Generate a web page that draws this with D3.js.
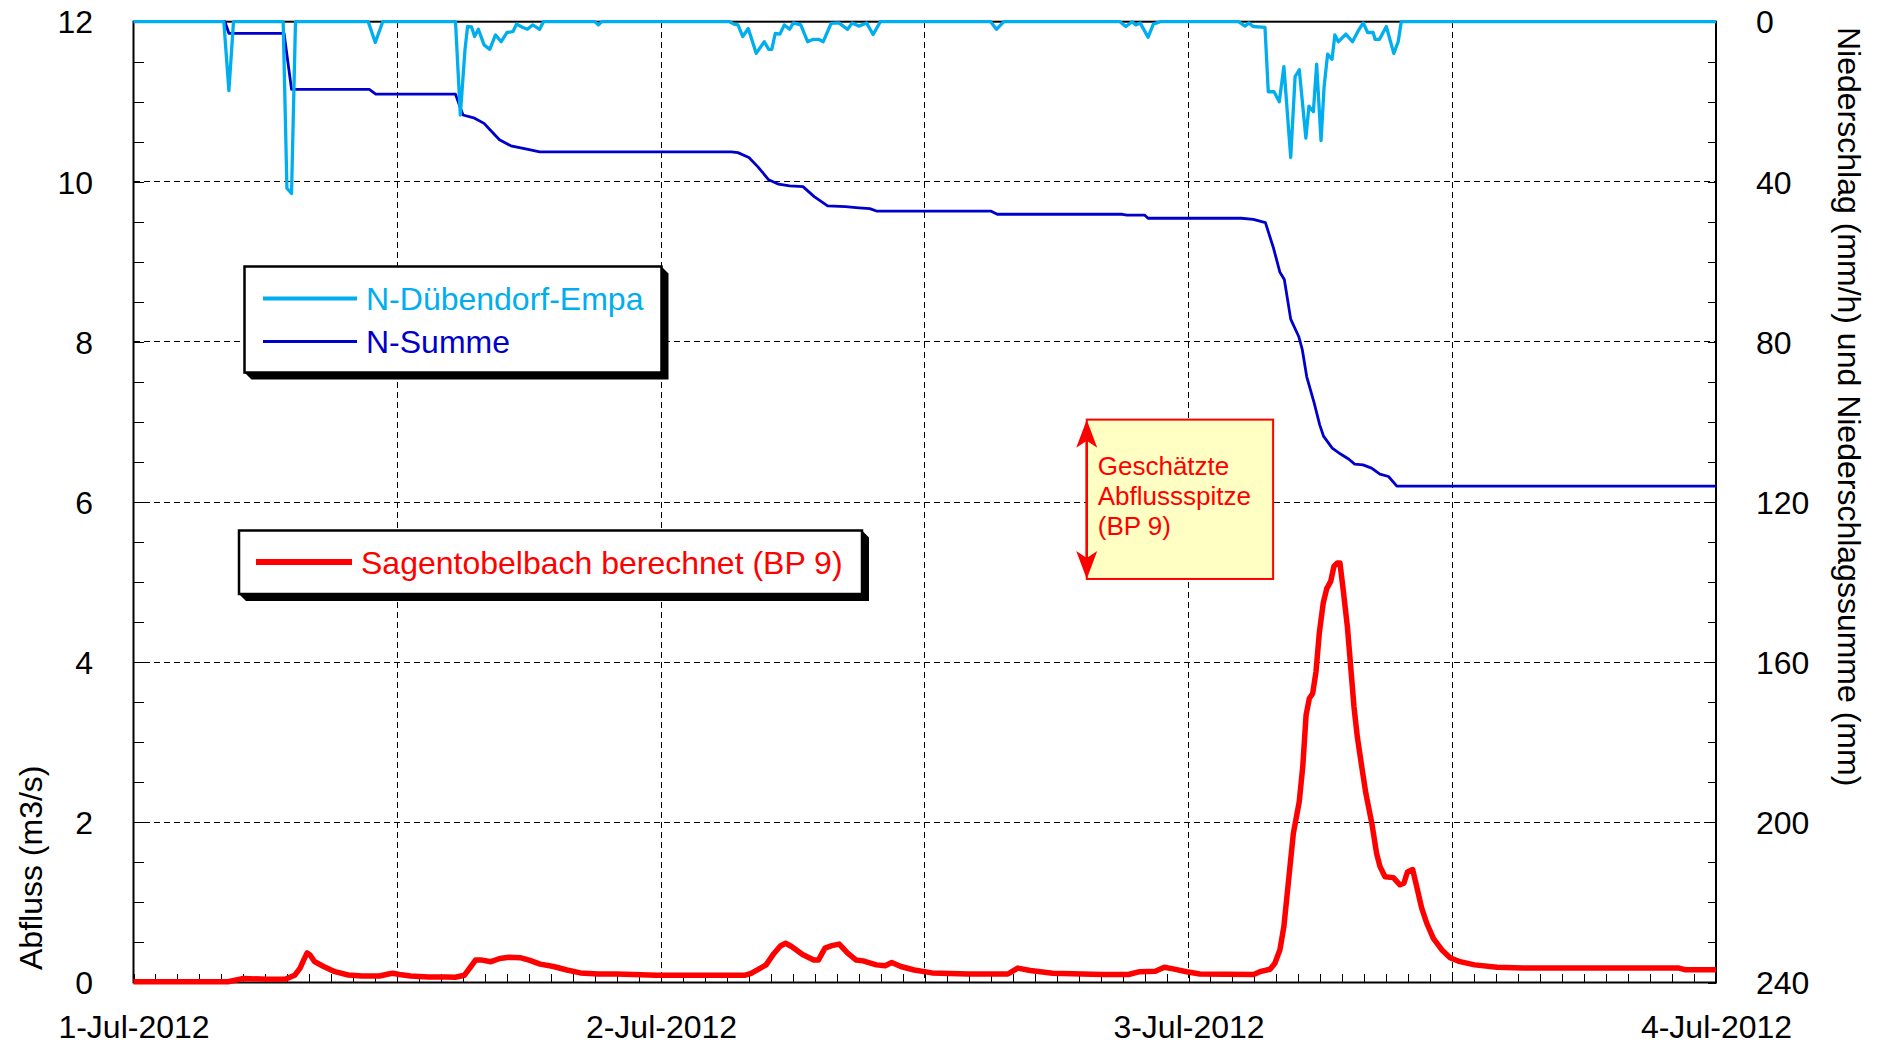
<!DOCTYPE html>
<html>
<head>
<meta charset="utf-8">
<script src="https://cdn.jsdelivr.net/npm/d3@7"></script>
<style>
  body { margin: 0; background: #fff; }
  text { font-family: "Liberation Sans", Arial, Helvetica, sans-serif; }
</style>
</head>
<body>
<div id="chart"></div>
<script>
// Stunden ab 1-Jul-2012 00:00
// Sagentobelbach berechnet (BP 9), m3/s
const abfluss = [
  [0, 0.01], [4.3, 0.01], [5.0, 0.05], [6.1, 0.04], [6.9, 0.04], [7.33, 0.09], [7.58, 0.18],
  [7.74, 0.28], [7.9, 0.37], [8.04, 0.34], [8.24, 0.26], [8.65, 0.2], [9.16, 0.135], [9.77, 0.094],
  [10.38, 0.081], [11.19, 0.081], [11.6, 0.106], [11.8, 0.115], [12.1, 0.1], [12.61, 0.08],
  [13.42, 0.07], [14.24, 0.07], [14.64, 0.065], [15.05, 0.09], [15.35, 0.2], [15.56, 0.28],
  [15.86, 0.28], [16.26, 0.26], [16.67, 0.3], [17.08, 0.315], [17.59, 0.31], [18.0, 0.28],
  [18.5, 0.23], [19.11, 0.2], [19.72, 0.156], [20.33, 0.12], [21.14, 0.106], [21.95, 0.106],
  [22.76, 0.1], [23.78, 0.09], [27.8, 0.09], [28.1, 0.115], [28.78, 0.22], [29.13, 0.36],
  [29.43, 0.456], [29.67, 0.49], [29.94, 0.45], [30.44, 0.35], [30.95, 0.28], [31.16, 0.28],
  [31.46, 0.43], [31.77, 0.46], [32.11, 0.48], [32.48, 0.37], [32.88, 0.28], [33.19, 0.27],
  [33.8, 0.22], [34.2, 0.21], [34.5, 0.25], [34.91, 0.2], [35.52, 0.156], [36.33, 0.12],
  [37.96, 0.106], [39.78, 0.106], [40.23, 0.18], [40.8, 0.15], [41.82, 0.115], [44.05, 0.1],
  [45.27, 0.1], [45.78, 0.135], [46.49, 0.14], [46.9, 0.19], [47.3, 0.17], [47.91, 0.135],
  [48.52, 0.106], [50.96, 0.1], [51.25, 0.135], [51.71, 0.165], [51.93, 0.24], [52.16, 0.41],
  [52.34, 0.7], [52.54, 1.24], [52.77, 1.86], [53.04, 2.26], [53.2, 2.7], [53.35, 3.34],
  [53.5, 3.55], [53.65, 3.61], [53.8, 3.88], [53.95, 4.36], [54.13, 4.74], [54.29, 4.92],
  [54.47, 5.01], [54.62, 5.2], [54.77, 5.24], [54.89, 5.24], [55.04, 4.9], [55.23, 4.44],
  [55.38, 3.94], [55.53, 3.44], [55.68, 3.07], [55.88, 2.7], [56.07, 2.36], [56.34, 1.99],
  [56.56, 1.61], [56.71, 1.45], [56.94, 1.32], [57.32, 1.31], [57.62, 1.22], [57.8, 1.24],
  [57.96, 1.38], [58.2, 1.41], [58.38, 1.2], [58.61, 0.93], [58.84, 0.74], [59.14, 0.55],
  [59.52, 0.41], [59.9, 0.31], [60.35, 0.26], [61.02, 0.22], [62.04, 0.19], [63.22, 0.18],
  [70.32, 0.18], [70.58, 0.16], [72, 0.16]
];

// N-Dübendorf-Empa, mm/h
const niederschlag = [
  [0, 0], [4.11, 0], [4.34, 17.2], [4.55, 0], [6.81, 0], [6.98, 41.6], [7.19, 42.9], [7.37, 0],
  [10.68, 0], [11.0, 5.2], [11.34, 0], [14.65, 0], [14.87, 23.3], [15.08, 7.1], [15.2, 1.2],
  [15.38, 1.3], [15.52, 3.7], [15.69, 1.9], [15.95, 5.8], [16.21, 6.9], [16.47, 3.3], [16.73, 5.0],
  [16.99, 2.7], [17.26, 2.5], [17.43, 0.6], [17.69, 1.4], [17.92, 1.9], [18.16, 0.8], [18.48, 1.9],
  [18.65, 0], [21.0, 0], [21.15, 0.8], [21.3, 0], [27.12, 0], [27.32, 0.6], [27.5, 0.8],
  [27.72, 3.7], [27.97, 1.7], [28.33, 7.9], [28.7, 5.0], [28.9, 6.9], [29.04, 6.9], [29.2, 2.9],
  [29.41, 3.1], [29.61, 0.8], [29.85, 1.9], [30.02, 0.3], [30.36, 0.8], [30.67, 5.0], [30.93, 4.4],
  [31.17, 4.4], [31.38, 5.0], [31.74, 0.4], [32.09, 0.3], [32.49, 1.9], [32.7, 0.3], [33.0, 1.1],
  [33.35, 0.3], [33.65, 3.2], [33.98, 0], [39.0, 0], [39.26, 1.9], [39.6, 0], [44.88, 0],
  [45.15, 1.2], [45.43, 0], [45.6, 0.8], [45.8, 0.3], [46.16, 3.9], [46.4, 0.6], [46.71, 0],
  [50.27, 0], [50.57, 1.1], [50.75, 0.3], [50.94, 1.2], [51.48, 1.4], [51.63, 17.5], [51.89, 17.5],
  [52.13, 20.0], [52.34, 11.2], [52.65, 33.9], [52.85, 13.7], [53.04, 12.0], [53.34, 29.1],
  [53.48, 21.1], [53.68, 22.5], [53.83, 10.6], [54.03, 29.7], [54.17, 16.2], [54.33, 8.1],
  [54.53, 9.4], [54.66, 3.3], [54.82, 5.0], [55.16, 3.1], [55.46, 5.0], [55.7, 2.5], [55.95, 0.3],
  [56.15, 2.7], [56.4, 2.7], [56.49, 4.4], [56.69, 4.4], [57.0, 1.2], [57.34, 7.9], [57.54, 5.0],
  [57.68, 0], [72, 0]
];

// N-Summe, mm
const summe = [
  [0, 0], [4.16, 0], [4.34, 2.9], [6.85, 2.9], [7.19, 16.9], [10.73, 16.9], [11.02, 18.1],
  [14.65, 18.1], [14.99, 23.3], [15.52, 24.1], [15.95, 25.4], [16.22, 27.0], [16.65, 29.5],
  [17.17, 31.0], [17.95, 31.9], [18.48, 32.5], [27.2, 32.5], [27.5, 32.7], [28.0, 33.9],
  [28.4, 36.2], [28.9, 39.5], [29.35, 40.6], [29.85, 41.0], [30.46, 41.2], [30.97, 43.7],
  [31.58, 46.0], [32.39, 46.2], [33.0, 46.5], [33.5, 46.7], [33.8, 47.3], [39.0, 47.3],
  [39.3, 48.1], [44.99, 48.1], [45.2, 48.3], [46.0, 48.3], [46.16, 49.1], [50.4, 49.1],
  [50.95, 49.4], [51.5, 50.2], [51.87, 56.6], [52.16, 62.6], [52.36, 64.4], [52.65, 74.3],
  [53.02, 78.7], [53.18, 82.0], [53.38, 88.7], [53.72, 95.3], [53.97, 100.7], [54.15, 103.6],
  [54.54, 106.5], [54.92, 108.0], [55.3, 109.3], [55.56, 110.5], [55.94, 110.7], [56.33, 111.5],
  [56.71, 113.0], [57.1, 113.6], [57.48, 116.0], [72, 116.0]
];

const leftTicks = [0, 2, 4, 6, 8, 10, 12];
const rightTicks = [0, 40, 80, 120, 160, 200, 240];
const gridHours = [12, 24, 36, 48, 60];
// geschätzte Abflussspitze: Bereich m3/s und Position (Stunden)
const spitzeRange = [5.04, 7.03];
const spitzeHours = [43.37, 51.85];
const spitzeText = ["Geschätzte", "Abflussspitze", "(BP 9)"];

const width = 1883, height = 1045;
const plotLeft = 133.5, plotRight = 1716, plotTop = 21.7, plotBottom = 982.5;

const t0 = Date.UTC(2012, 6, 1);
const at = h => new Date(t0 + h * 3600e3);

const x = d3.scaleUtc().domain([at(0), at(72)]).range([plotLeft, plotRight]);
const yQ = d3.scaleLinear().domain([0, 12]).range([plotBottom, plotTop]);
const yP = d3.scaleLinear().domain([0, 240]).range([plotTop, plotBottom]);

const svg = d3.select("#chart").append("svg")
  .attr("width", width)
  .attr("height", height);

// Gitter
const grid = svg.append("g")
  .attr("stroke", "#000")
  .attr("stroke-width", 1)
  .attr("stroke-dasharray", "6,4")
  .attr("shape-rendering", "crispEdges");

grid.selectAll("line.h")
  .data(leftTicks.slice(1, -1))
  .join("line")
  .attr("class", "h")
  .attr("x1", plotLeft).attr("x2", plotRight)
  .attr("y1", d => yQ(d)).attr("y2", d => yQ(d));

grid.selectAll("line.v")
  .data(gridHours)
  .join("line")
  .attr("class", "v")
  .attr("x1", d => x(at(d))).attr("x2", d => x(at(d)))
  .attr("y1", plotTop).attr("y2", plotBottom);

// Achsen: kleine Striche nach innen
svg.append("g")
  .attr("transform", `translate(${plotLeft},0)`)
  .attr("shape-rendering", "crispEdges")
  .call(d3.axisLeft(yQ).tickValues(d3.range(0, 12.01, 0.5)).tickSize(-10).tickFormat(""))
  .call(g => g.select(".domain").remove());

svg.append("g")
  .attr("transform", `translate(${plotRight},0)`)
  .attr("shape-rendering", "crispEdges")
  .call(d3.axisRight(yP).tickValues(d3.range(0, 240.1, 10)).tickSize(-8).tickFormat(""))
  .call(g => g.select(".domain").remove());

svg.append("g")
  .attr("transform", `translate(0,${plotBottom})`)
  .attr("shape-rendering", "crispEdges")
  .call(d3.axisBottom(x).ticks(d3.utcHour.every(1)).tickSize(-9).tickFormat(""))
  .call(g => g.select(".domain").remove());

// Beschriftungen
const leftAxis = svg.append("g")
  .attr("transform", `translate(${plotLeft},0)`)
  .call(d3.axisLeft(yQ).tickValues(leftTicks).tickSize(0).tickFormat(d3.format("d")));
leftAxis.select(".domain").remove();
leftAxis.selectAll("text")
  .attr("x", -40.5)
  .attr("dy", "0.35em")
  .attr("fill", "#000")
  .style("font-size", "32px");

const rightAxis = svg.append("g")
  .attr("transform", `translate(${plotRight},0)`)
  .call(d3.axisRight(yP).tickValues(rightTicks).tickSize(0).tickFormat(d3.format("d")));
rightAxis.select(".domain").remove();
rightAxis.selectAll("text")
  .attr("x", 40)
  .attr("dy", "0.35em")
  .attr("fill", "#000")
  .style("font-size", "32px");

const xAxis = svg.append("g")
  .attr("transform", `translate(0,${plotBottom})`)
  .call(d3.axisBottom(x).tickValues([0, 24, 48, 72].map(at)).tickSize(0)
    .tickFormat(d3.utcFormat("%-d-%b-%Y")));
xAxis.select(".domain").remove();
xAxis.selectAll("text")
  .attr("y", 55.5)
  .attr("dy", null)
  .attr("fill", "#000")
  .style("font-size", "32px");

[leftAxis, rightAxis, xAxis].forEach(g => g.attr("font-family", null).attr("font-size", null));

// Achsentitel
svg.append("text")
  .attr("transform", "translate(42,970) rotate(-90)")
  .attr("font-size", "32px")
  .attr("fill", "#000")
  .text("Abfluss (m3/s)");

svg.append("text")
  .attr("transform", "translate(1838,27) rotate(90)")
  .attr("font-size", "32px")
  .attr("fill", "#000")
  .text("Niederschlag (mm/h) und Niederschlagssumme (mm)");

// Rahmen
svg.append("rect")
  .attr("x", plotLeft).attr("y", plotTop)
  .attr("width", plotRight - plotLeft).attr("height", plotBottom - plotTop)
  .attr("fill", "none")
  .attr("stroke", "#000")
  .attr("stroke-width", 2);

// Linien
const lineP = d3.line().x(d => x(at(d[0]))).y(d => yP(d[1]));
const lineQ = d3.line().x(d => x(at(d[0]))).y(d => yQ(d[1]));

svg.append("path")
  .datum(summe)
  .attr("d", lineP)
  .attr("fill", "none")
  .attr("stroke", "#0000cc")
  .attr("stroke-width", 2.8)
  .attr("stroke-linejoin", "round");

svg.append("path")
  .datum(niederschlag)
  .attr("d", lineP)
  .attr("fill", "none")
  .attr("stroke", "#00aeef")
  .attr("stroke-width", 3.3)
  .attr("stroke-linejoin", "round");

svg.append("path")
  .datum(abfluss)
  .attr("d", lineQ)
  .attr("fill", "none")
  .attr("stroke", "#ff0000")
  .attr("stroke-width", 5.5)
  .attr("stroke-linejoin", "round");

// Legendenkasten mit Schatten
function legendBox(x0, y0, x1, y1) {
  const d = 7;
  svg.append("polygon")
    .attr("points", [[x1, y0], [x1 + d, y0 + d], [x1 + d, y1 + d], [x0 + d, y1 + d], [x0, y1], [x1, y1]].join(" "))
    .attr("fill", "#000");
  svg.append("rect")
    .attr("x", x0).attr("y", y0)
    .attr("width", x1 - x0).attr("height", y1 - y0)
    .attr("fill", "#fff")
    .attr("stroke", "#000")
    .attr("stroke-width", 2.5);
}

function legendItem(y, color, lw, label, x1, x2) {
  svg.append("line")
    .attr("x1", x1).attr("x2", x2)
    .attr("y1", y).attr("y2", y)
    .attr("stroke", color)
    .attr("stroke-width", lw);
  svg.append("text")
    .attr("x", x2 + 9)
    .attr("y", y + 11.5)
    .attr("font-size", "32px")
    .attr("fill", color)
    .text(label);
}

legendBox(244.5, 266.5, 661.5, 372.5);
legendItem(298.5, "#00aeef", 4, "N-Dübendorf-Empa", 263, 357);
legendItem(341.5, "#0000cc", 3, "N-Summe", 263, 357);

legendBox(239, 530.5, 862, 594);
legendItem(562, "#ff0000", 6, "Sagentobelbach berechnet (BP 9)", 256, 352);

// Annotation
const ax = x(at(spitzeHours[0]));
const ay1 = yQ(spitzeRange[1]);
const ay2 = yQ(spitzeRange[0]);

svg.append("rect")
  .attr("x", ax).attr("y", ay1)
  .attr("width", x(at(spitzeHours[1])) - ax)
  .attr("height", ay2 - ay1)
  .attr("fill", "#ffffc4")
  .attr("stroke", "#ff0000")
  .attr("stroke-width", 2);

svg.append("line")
  .attr("x1", ax).attr("x2", ax)
  .attr("y1", ay1 + 10).attr("y2", ay2 - 10)
  .attr("stroke", "#ff0000")
  .attr("stroke-width", 2.5);

svg.append("polygon")
  .attr("points", [[ax, ay1], [ax - 10.5, ay1 + 28], [ax, ay1 + 21], [ax + 10.5, ay1 + 28]].join(" "))
  .attr("fill", "#ff0000");
svg.append("polygon")
  .attr("points", [[ax, ay2], [ax - 10.5, ay2 - 28], [ax, ay2 - 21], [ax + 10.5, ay2 - 28]].join(" "))
  .attr("fill", "#ff0000");

svg.append("g")
  .selectAll("text")
  .data(spitzeText)
  .join("text")
  .attr("x", ax + 11)
  .attr("y", (d, i) => ay1 + 55 + i * 30)
  .attr("font-size", "26px")
  .attr("fill", "#ff0000")
  .text(d => d);
</script>
</body>
</html>
